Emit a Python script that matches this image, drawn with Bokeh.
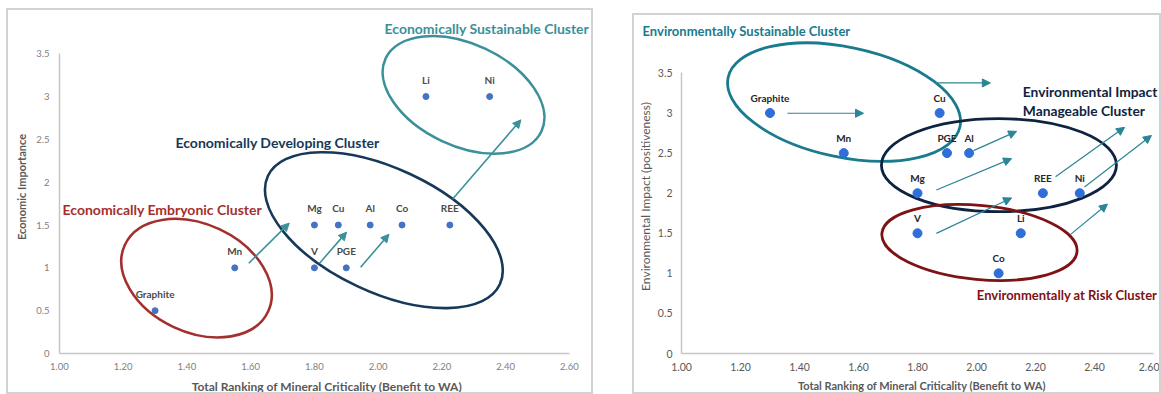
from bokeh.plotting import figure
from bokeh.layouts import row, column
from bokeh.models import (ColumnDataSource, Label, Arrow, NormalHead, Range1d,
                          FixedTicker, Spacer, Title)
from bokeh.core.properties import value
from bokeh.embed import file_html
from bokeh.resources import INLINE

FONT = "Lato"

# ---------------- data ----------------
x_ticks = [1.0, 1.2, 1.4, 1.6, 1.8, 2.0, 2.2, 2.4, 2.6]
x_tick_labels = ["1.00", "1.20", "1.40", "1.60", "1.80", "2.00", "2.20", "2.40", "2.60"]
y_ticks = [0, 0.5, 1, 1.5, 2, 2.5, 3, 3.5]
y_tick_labels = ["0", "0.5", "1", "1.5", "2", "2.5", "3", "3.5"]

# Economic importance panel
econ_minerals = ["Graphite", "Mn", "Mg", "Cu", "Al", "Co", "REE", "V", "PGE", "Li", "Ni"]
econ_x = [1.30, 1.55, 1.80, 1.875, 1.975, 2.075, 2.225, 1.80, 1.90, 2.15, 2.35]
econ_y = [0.5, 1.0, 1.5, 1.5, 1.5, 1.5, 1.5, 1.0, 1.0, 3.0, 3.0]

# Environmental impact panel
env_minerals = ["Graphite", "Mn", "Cu", "PGE", "Al", "Mg", "REE", "Ni", "V", "Li", "Co"]
env_x = [1.30, 1.55, 1.875, 1.90, 1.975, 1.80, 2.225, 2.35, 1.80, 2.15, 2.075]
env_y = [3.0, 2.5, 3.0, 2.5, 2.5, 2.0, 2.0, 2.0, 1.5, 1.5, 1.0]

# cluster outlines (centre in data units, size in screen px, angle in degrees)
econ_cluster_names = ["Economically Sustainable Cluster", "Economically Developing Cluster",
                      "Economically Embryonic Cluster"]
econ_cluster_cx = [2.268, 2.018, 1.43]
econ_cluster_cy = [3.02, 1.44, 0.88]
econ_cluster_w = [172, 256, 158]
econ_cluster_h = [102, 124, 108]
econ_cluster_angle = [-25, -25, -25]
econ_cluster_colors = ["#3A9199", "#16395A", "#A3302E"]
econ_cluster_label_x = [2.020, 1.364, 1.0095]
econ_cluster_label_y = [3.794, 2.459, 1.686]

env_cluster_names = ["Environmentally  Sustainable Cluster",
                     "Environmental Impact\nManageable Cluster",
                     "Environmentally at Risk Cluster"]
env_cluster_cx = [1.551, 2.076, 2.010]
env_cluster_cy = [3.136, 2.349, 1.385]
env_cluster_w = [237, 235, 196]
env_cluster_h = [110, 93, 74]
env_cluster_angle = [-12, 0, -5.4]
env_cluster_colors = ["#1A7B8E", "#0E2341", "#7E1215"]
env_cluster_label_x = [0.868, 2.157, 2.001]
env_cluster_label_y = [4.018, 3.270, 0.730]

# movement arrows
econ_arrow_x0 = [1.594, 1.816, 1.945, 2.234]
econ_arrow_y0 = [1.054, 1.054, 1.007, 1.803]
econ_arrow_x1 = [1.721, 1.901, 2.034, 2.448]
econ_arrow_y1 = [1.522, 1.417, 1.393, 2.728]

env_arrow_x0 = [1.359, 1.858, 1.990, 1.864, 2.268, 2.366, 1.864, 2.319]
env_arrow_y0 = [2.997, 3.375, 2.531, 2.040, 2.204, 2.078, 1.499, 1.486]
env_arrow_x1 = [1.617, 2.047, 2.136, 2.119, 2.502, 2.593, 2.119, 2.444]
env_arrow_y1 = [2.997, 3.375, 2.771, 2.431, 2.821, 2.720, 1.940, 1.864]

X_LABEL = "Total Ranking of Mineral Criticality (Benefit to WA)"


def style_axes(p, tick_color, tick_size, xlab_size, ylab, ylab_size, ylab_style, axis_color,
               x_std, y_std, xl_std, yl_std):
    for ax in (p.xaxis[0], p.yaxis[0]):
        ax.axis_line_color = axis_color
        ax.axis_line_width = 1.5
        ax.major_tick_line_color = None
        ax.minor_tick_line_color = None
        ax.major_tick_out = 0
        ax.major_tick_in = 0
        ax.minor_tick_out = 0
        ax.minor_tick_in = 0
        ax.major_label_text_color = tick_color
        ax.major_label_text_font = FONT
        ax.major_label_text_font_size = tick_size
        ax.axis_label_text_font = FONT
    p.xaxis[0].ticker = FixedTicker(ticks=x_ticks)
    p.xaxis[0].major_label_overrides = dict(zip(x_ticks, x_tick_labels))
    p.yaxis[0].ticker = FixedTicker(ticks=y_ticks)
    p.yaxis[0].major_label_overrides = dict(zip(y_ticks, y_tick_labels))
    p.xaxis[0].bounds = (x_ticks[0], x_ticks[-1])
    p.yaxis[0].bounds = (y_ticks[0], y_ticks[-1])
    p.xaxis[0].axis_label = X_LABEL
    p.xaxis[0].axis_label_text_font_style = "bold"
    p.xaxis[0].axis_label_text_font_size = xlab_size
    p.xaxis[0].axis_label_text_color = "#595959"
    p.xaxis[0].major_label_standoff = x_std
    p.xaxis[0].axis_label_standoff = xl_std
    p.yaxis[0].axis_label = ylab
    p.yaxis[0].axis_label_text_font_style = ylab_style
    p.yaxis[0].axis_label_text_font_size = ylab_size
    p.yaxis[0].axis_label_text_color = "#595959"
    p.yaxis[0].major_label_standoff = y_std
    p.yaxis[0].axis_label_standoff = yl_std
    p.xgrid.visible = False
    p.ygrid.visible = False
    p.outline_line_color = None


# ---------------- left panel ----------------
p1 = figure(width=587, height=386, output_backend="svg", toolbar_location=None,
            x_range=Range1d(1.0, 2.679), y_range=Range1d(0, 3.888),
            min_border_left=51, min_border_right=1, min_border_top=10, min_border_bottom=40,
            styles={"border": "2px solid #d2d2d2", "box-sizing": "border-box"})
style_axes(p1, "#808080", "9.5px", "12px", "Economic Importance", "11px", "bold", "#c6c6c6",
           9, 10, 6, 5)

p1.ellipse(x=econ_cluster_cx, y=econ_cluster_cy, width=econ_cluster_w, height=econ_cluster_h,
           angle=econ_cluster_angle, angle_units="deg", width_units="screen", height_units="screen",
           fill_color=None, line_color=econ_cluster_colors, line_width=2.6)

src1 = ColumnDataSource(dict(x0=econ_arrow_x0, y0=econ_arrow_y0, x1=econ_arrow_x1, y1=econ_arrow_y1))
p1.add_layout(Arrow(source=src1, x_start="x0", y_start="y0", x_end="x1", y_end="y1",
                    line_color="#3A9199", line_width=1.6,
                    end=NormalHead(size=8, fill_color="#3A9199", line_color="#3A9199")))

pts1 = ColumnDataSource(dict(x=econ_x, y=econ_y, name=econ_minerals))
p1.scatter(x="x", y="y", source=pts1, size=6, fill_color="#4472C4", line_color="#4472C4")
p1.text(x="x", y="y", text="name", source=pts1, y_offset=-17, text_align="center",
        text_baseline="middle", text_font=value(FONT), text_font_style="bold",
        text_font_size="10px", text_color="#4a4a4a")

for name, lx, ly, col in zip(econ_cluster_names, econ_cluster_label_x, econ_cluster_label_y,
                             econ_cluster_colors):
    p1.add_layout(Label(x=lx, y=ly, text=name, text_font=FONT, text_font_style="bold",
                        text_font_size="14px", text_color=col, text_baseline="middle"))

# ---------------- right panel ----------------
p2 = figure(width=529, height=381, output_backend="svg", toolbar_location=None,
            x_range=Range1d(1.0, 2.6305), y_range=Range1d(0, 3.917),
            min_border_left=43, min_border_right=1, min_border_top=24, min_border_bottom=43,
            styles={"border": "2px solid #d2d2d2", "box-sizing": "border-box"})
style_axes(p2, "#595959", "10.5px", "11px", "Environmental Impact (positiveness)", "12px",
           "normal", "#c6c6c6", 9, 9, 5, 2)

p2.ellipse(x=env_cluster_cx, y=env_cluster_cy, width=env_cluster_w, height=env_cluster_h,
           angle=env_cluster_angle, angle_units="deg", width_units="screen", height_units="screen",
           fill_color=None, line_color=env_cluster_colors, line_width=2.8)

src2 = ColumnDataSource(dict(x0=env_arrow_x0, y0=env_arrow_y0, x1=env_arrow_x1, y1=env_arrow_y1))
p2.add_layout(Arrow(source=src2, x_start="x0", y_start="y0", x_end="x1", y_end="y1",
                    line_color="#2A8595", line_width=1.2,
                    end=NormalHead(size=8, fill_color="#2A8595", line_color="#2A8595")))

pts2 = ColumnDataSource(dict(x=env_x, y=env_y, name=env_minerals))
p2.scatter(x="x", y="y", source=pts2, size=9, fill_color="#2F6FD8", line_color="#2F6FD8")
p2.text(x="x", y="y", text="name", source=pts2, y_offset=-15, text_align="center",
        text_baseline="middle", text_font=value(FONT), text_font_style="bold",
        text_font_size="10px", text_color="#262626")

# top-left cluster name sits outside the plot frame -> use a title
p2.add_layout(Title(text=env_cluster_names[0], align="left", offset=-39, standoff=1,
                    text_font=FONT, text_font_style="bold", text_font_size="13px",
                    text_color=env_cluster_colors[0]), "above")

env_label_sizes = ["13px", "13.8px", "13px"]
for name, lx, ly, col, fs in list(zip(env_cluster_names, env_cluster_label_x, env_cluster_label_y,
                                      env_cluster_colors, env_label_sizes))[1:]:
    lines = name.split("\n")
    for i, ln in enumerate(lines):
        p2.add_layout(Label(x=lx, y=ly, y_offset=-19 * i, text=ln, text_font=FONT,
                            text_font_style="bold", text_font_size=fs, text_color=col,
                            text_baseline="middle"))

layout = row(Spacer(width=6),
             column(Spacer(height=8), p1),
             Spacer(width=39),
             column(Spacer(height=13), p2))

open("out.html", "w").write(file_html(layout, INLINE))
